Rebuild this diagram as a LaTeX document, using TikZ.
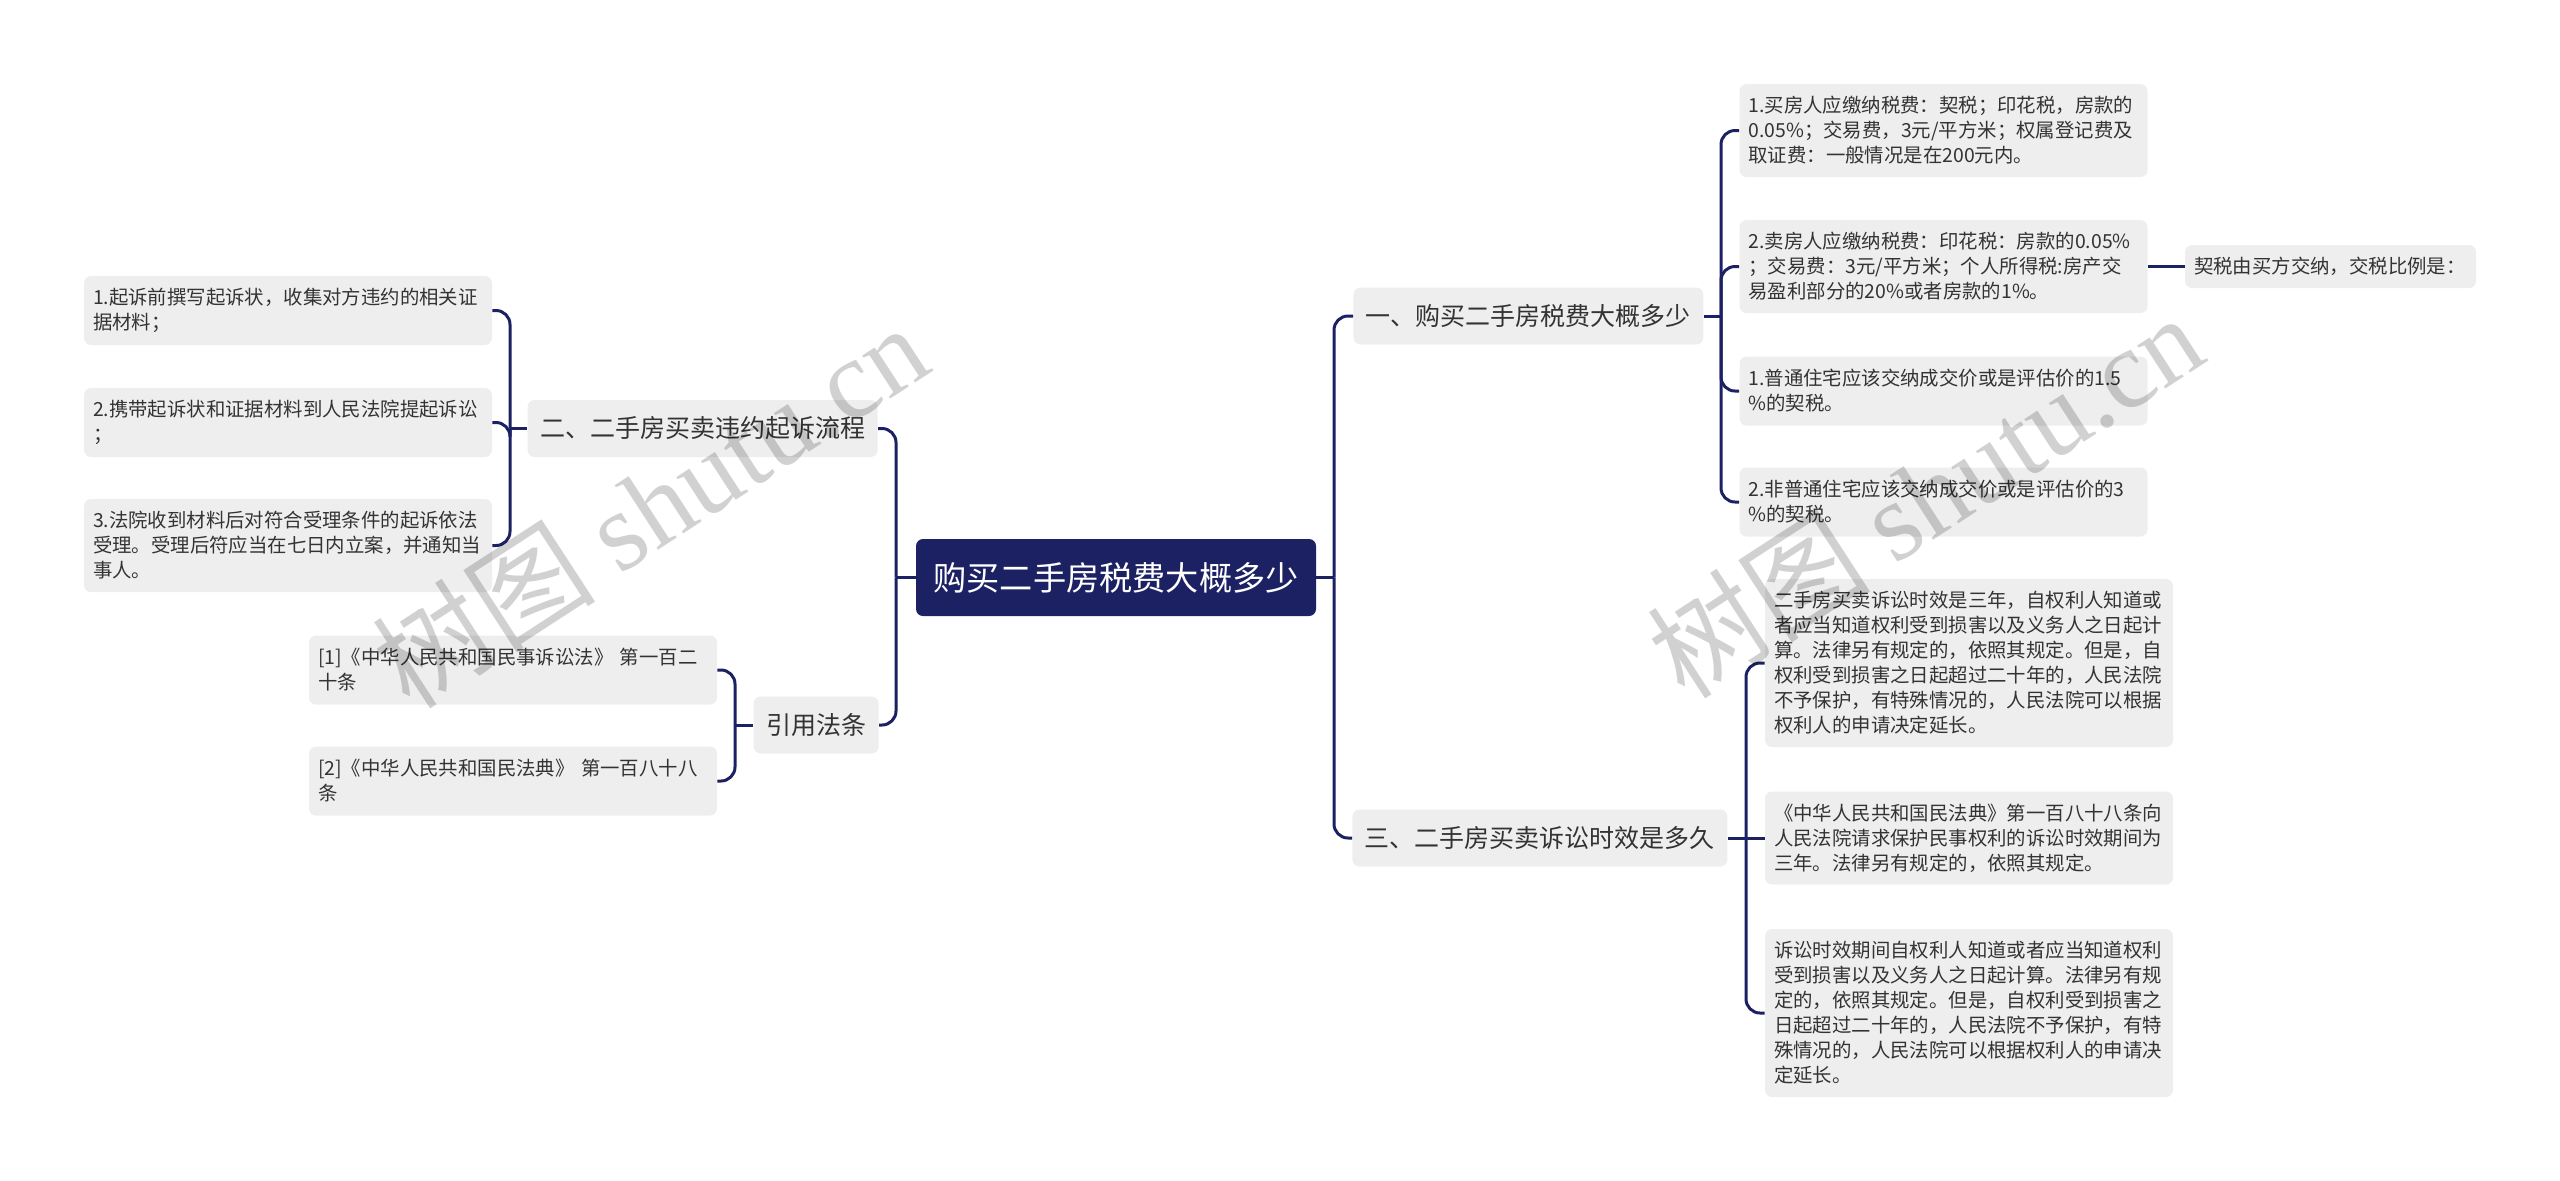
\documentclass[tikz,border=0pt]{standalone}
\usepackage{fontspec}
\setmainfont{Noto Sans CJK SC}
\newfontfamily\wmserif{Liberation Serif}
\definecolor{navy}{HTML}{1C2163}
\definecolor{boxgray}{HTML}{EEEEEE}
\definecolor{txt}{HTML}{333333}
\begin{document}
\begin{tikzpicture}[x=0.5pt,y=-0.5pt,
  conn/.style={draw=navy, line width=1.5pt, rounded corners=7pt},
  box/.style={fill=boxgray, rounded corners=3.5pt, text=txt},
  leaf/.style={box, font=\fontsize{9.7pt}{12.5pt}\selectfont, align=left, text width=195pt, inner xsep=4.5pt, inner ysep=0pt, anchor=center},
  one/.style={minimum height=21.5pt},
  two/.style={minimum height=34.5pt},
  three/.style={minimum height=46.5pt},
  six/.style={minimum height=84pt},
  branch/.style={box, font=\fontsize{12.5pt}{15pt}\selectfont, inner xsep=6.25pt, inner ysep=0pt, minimum height=28.5pt},
  root/.style={fill=navy, rounded corners=3.5pt, text=white, font=\fontsize{16.6pt}{20pt}\selectfont, minimum width=200pt, minimum height=38.5pt, inner sep=0pt},
  wmark/.style={text=black, opacity=0.18, rotate=33, font=\fontsize{56pt}{60pt}\selectfont}
]
\useasboundingbox (0,0) rectangle (2560,1180);

% root
\node[root] (c) at (1116,577.5) {购买二手房税费大概多少};

% branches
\node[branch, anchor=west] (b1) at (1353,316) {一、购买二手房税费大概多少};
\node[branch, anchor=west] (b3) at (1352,838) {三、二手房买卖诉讼时效是多久};
\node[branch, anchor=east] (b2) at (878,428.5) {二、二手房买卖违约起诉流程};
\node[branch, anchor=east] (b4) at (879,725) {引用法条};

% leaves of b1
\node[leaf, three] (l11) at (1943.5,130.5) {1.买房人应缴纳税费：契税；印花税，房款的\\0.05\%；交易费，3元/平方米；权属登记费及\\取证费：一般情况是在200元内。};
\node[leaf, three] (l12) at (1943.5,266.5) {2.卖房人应缴纳税费：印花税：房款的0.05\%\\；交易费：3元/平方米；个人所得税:房产交\\易盈利部分的20\%或者房款的1\%。};
\node[leaf, two] (l13) at (1943.5,391) {1.普通住宅应该交纳成交价或是评估价的1.5\\\%的契税。};
\node[leaf, two] (l14) at (1943.5,502) {2.非普通住宅应该交纳成交价或是评估价的3\\\%的契税。};
\node[leaf, one, text width=136.5pt] (l12c) at (2330.5,266.5) {契税由买方交纳，交税比例是：};

% leaves of b3
\node[leaf, six] (l31) at (1969,663) {二手房买卖诉讼时效是三年，自权利人知道或\\者应当知道权利受到损害以及义务人之日起计\\算。法律另有规定的，依照其规定。但是，自\\权利受到损害之日起超过二十年的，人民法院\\不予保护，有特殊情况的，人民法院可以根据\\权利人的申请决定延长。};
\node[leaf, three] (l32) at (1969,838) {《中华人民共和国民法典》第一百八十八条向\\人民法院请求保护民事权利的诉讼时效期间为\\三年。法律另有规定的，依照其规定。};
\node[leaf, six] (l33) at (1969,1013) {诉讼时效期间自权利人知道或者应当知道权利\\受到损害以及义务人之日起计算。法律另有规\\定的，依照其规定。但是，自权利受到损害之\\日起超过二十年的，人民法院不予保护，有特\\殊情况的，人民法院可以根据权利人的申请决\\定延长。};

% leaves of b2
\node[leaf, two] (l21) at (288,310.5) {1.起诉前撰写起诉状，收集对方违约的相关证\\据材料；};
\node[leaf, two] (l22) at (288,422.5) {2.携带起诉状和证据材料到人民法院提起诉讼\\；};
\node[leaf, three] (l23) at (288,545.5) {3.法院收到材料后对符合受理条件的起诉依法\\受理。受理后符应当在七日内立案，并通知当\\事人。};

% leaves of b4
\node[leaf, two] (l41) at (513,670) {[1]《中华人民共和国民事诉讼法》 第一百二\\十条};
\node[leaf, two] (l42) at (513,781) {[2]《中华人民共和国民法典》 第一百八十八\\条};

% trunk coordinates
\coordinate (tL) at (896,577.5);
\coordinate (tR) at (1334,577.5);
\coordinate (t1) at (1721,316);
\coordinate (t3) at (1746,838);
\coordinate (t2) at (510,428.5);
\coordinate (t4) at (735,725);

% connectors root
\draw[conn] (c.west) -- (tL);
\draw[conn] (tL) |- (b2.east);
\draw[conn] (tL) |- (b4.east);
\draw[conn] (c.east) -- (tR);
\draw[conn] (tR) |- (b1.west);
\draw[conn] (tR) |- (b3.west);

% connectors b1
\draw[conn] (b1.east) -- (t1);
\draw[conn] (t1) |- (l11.west);
\draw[conn] (t1) |- (l12.west);
\draw[conn] (t1) |- (l13.west);
\draw[conn] (t1) |- (l14.west);
\draw[conn] (l12.east) -- (l12c.west);

% connectors b3
\draw[conn] (b3.east) -- (t3);
\draw[conn] (t3) |- (l31.west);
\draw[conn] (t3) -- (l32.west);
\draw[conn] (t3) |- (l33.west);

% connectors b2
\draw[conn] (b2.west) -- (t2);
\draw[conn] (t2) |- (l21.east);
\draw[conn] (t2) |- (l22.east);
\draw[conn] (t2) |- (l23.east);

% connectors b4
\draw[conn] (b4.west) -- (t4);
\draw[conn] (t4) |- (l41.east);
\draw[conn] (t4) |- (l42.east);

% watermarks
\node[wmark] (wm1) at (650,505) {树图 {\wmserif shutu.cn}};
\node[wmark] (wm2) at (1925,495) {树图 {\wmserif shutu.cn}};
\end{tikzpicture}
\end{document}
